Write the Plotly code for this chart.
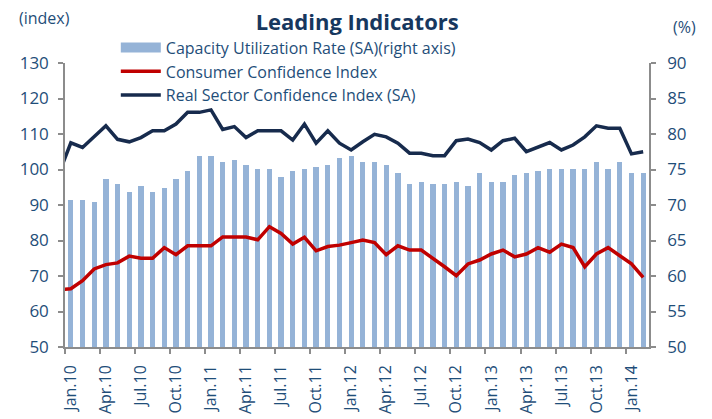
import plotly.graph_objects as go

# month index: -1 = Dec.09, 0 = Jan.10 ... 49 = Feb.14
month_idx = list(range(-1, 50))
bar_idx = list(range(0, 50))

capacity_util = [70.7, 70.7, 70.4, 73.6, 73.0, 71.8, 72.7, 71.8, 72.4, 73.6,
                 74.8, 76.9, 76.9, 76.0, 76.3, 75.7, 75.1, 75.1, 73.9, 74.8,
                 75.1, 75.35, 75.7, 76.6, 76.9, 76.0, 76.0, 75.7, 74.5, 73.0,
                 73.3, 73.0, 73.0, 73.3, 72.7, 74.5, 73.3, 73.3, 74.2, 74.5,
                 74.8, 75.1, 75.1, 75.1, 75.1, 76.0, 75.1, 76.0, 74.5, 74.5]

consumer_conf = [66.2,
                 66.4, 68.7, 72.0, 73.2, 73.7, 75.6, 75.0, 75.0, 78.0, 76.0,
                 78.5, 78.5, 78.5, 81.0, 81.0, 81.0, 80.2, 83.9, 82.0, 79.0,
                 80.9, 77.1, 78.3, 78.7, 79.4, 80.1, 79.4, 76.0, 78.5, 77.3,
                 77.3, 75.0, 72.6, 70.1, 73.4, 74.5, 76.2, 77.3, 75.4, 76.2,
                 78.0, 76.7, 79.0, 78.0, 72.6, 76.2, 78.0, 75.7, 73.4, 69.6]

real_sector_conf = [99.0,
                    107.5, 106.2, 109.2, 112.3, 108.5, 107.8, 109.0, 110.9, 110.9, 112.8,
                    116.1, 116.1, 116.8, 111.3, 112.1, 109.0, 110.9, 110.9, 110.9, 108.3,
                    112.8, 107.4, 110.9, 107.4, 105.5, 107.8, 109.9, 109.2, 107.4, 104.6,
                    104.6, 103.9, 103.9, 108.1, 108.6, 107.6, 105.5, 108.1, 108.8, 105.0,
                    106.2, 107.6, 105.5, 106.9, 109.2, 112.3, 111.6, 111.6, 104.4, 105.0]

tick_labels = ["Jan.10", "Apr.10", "Jul.10", "Oct.10", "Jan.11", "Apr.11", "Jul.11",
               "Oct.11", "Jan.12", "Apr.12", "Jul.12", "Oct.12", "Jan.13", "Apr.13",
               "Jul.13", "Oct.13", "Jan.14"]
tick_pos = [3 * i for i in range(len(tick_labels))]
tick_bounds = [p - 0.5 for p in tick_pos]

TXT = "#1F4E79"
FONT = "Open Sans"
GREY = "#8C8C8C"
BAR_COLOR = "#95B3D7"

fig = go.Figure()
fig.add_trace(go.Bar(x=bar_idx, y=capacity_util, name="Capacity Utilization Rate (SA)(right axis)",
                     marker=dict(color=BAR_COLOR, line=dict(width=0)), width=0.45,
                     yaxis="y", showlegend=False))
# legend entry for the bars, drawn as a wide swatch
fig.add_trace(go.Scatter(x=[None], y=[None], name="Capacity Utilization Rate (SA)(right axis)",
                         mode="lines", line=dict(color=BAR_COLOR, width=10), yaxis="y",
                         showlegend=True))
fig.add_trace(go.Scatter(x=month_idx, y=consumer_conf, name="Consumer Confidence Index",
                         mode="lines", line=dict(color="#C00000", width=3.5), yaxis="y2"))
fig.add_trace(go.Scatter(x=month_idx, y=real_sector_conf, name="Real Sector Confidence Index (SA)",
                         mode="lines", line=dict(color="#172B4D", width=3.5), yaxis="y2"))

fig.update_layout(
    width=704, height=411,
    margin=dict(l=57, r=63, t=55, b=72, autoexpand=False),
    paper_bgcolor="white", plot_bgcolor="white",
    font=dict(family=FONT, color=TXT, size=16),
    showlegend=True,
    title=dict(text="<b>Leading Indicators</b>", x=0.496, xanchor="center", y=0.983, yanchor="top",
               font=dict(family=FONT, size=22, color="#17375E")),
    legend=dict(x=0.087, y=1.114, xanchor="left", yanchor="top", bgcolor="rgba(0,0,0,0)",
                font=dict(family=FONT, size=16, color=TXT), tracegroupgap=0,
                itemwidth=40),
    bargap=0,
    xaxis=dict(range=[-0.5, 49.5], tickmode="array", tickvals=tick_pos, ticktext=tick_labels,
               tickangle=-90, ticks="outside", ticklen=10, tickcolor="rgba(0,0,0,0)",
               showline=True, linecolor=GREY, linewidth=1.5, showgrid=False, zeroline=False,
               tickfont=dict(family=FONT, size=16, color=TXT),
               minor=dict(tickmode="array", tickvals=tick_bounds, ticks="outside", ticklen=5,
                          tickcolor=GREY, tickwidth=1.5, showgrid=False)),
    yaxis=dict(range=[50, 90], dtick=5, side="right", showline=True, linecolor=GREY, linewidth=1.5,
               ticks="outside", ticklen=5, tickcolor=GREY, tickwidth=1.5, showgrid=False,
               zeroline=False, ticklabelstandoff=8,
               tickfont=dict(family=FONT, size=17, color=TXT)),
    yaxis2=dict(range=[50, 130], dtick=10, side="left", overlaying="y", showline=True,
                linecolor=GREY, linewidth=1.5, ticks="outside", ticklen=5, tickcolor=GREY,
                tickwidth=1.5, showgrid=False, zeroline=False, ticklabelstandoff=6,
                tickfont=dict(family=FONT, size=17, color=TXT)),
    annotations=[
        dict(text="(index)", xref="paper", yref="paper", x=-0.035, y=1.158, xanchor="center",
             yanchor="middle", showarrow=False, font=dict(family=FONT, size=16, color=TXT)),
        dict(text="(%)", xref="paper", yref="paper", x=1.06, y=1.127, xanchor="center",
             yanchor="middle", showarrow=False, font=dict(family=FONT, size=16, color=TXT)),
    ],
)

fig.write_html("out.html")
